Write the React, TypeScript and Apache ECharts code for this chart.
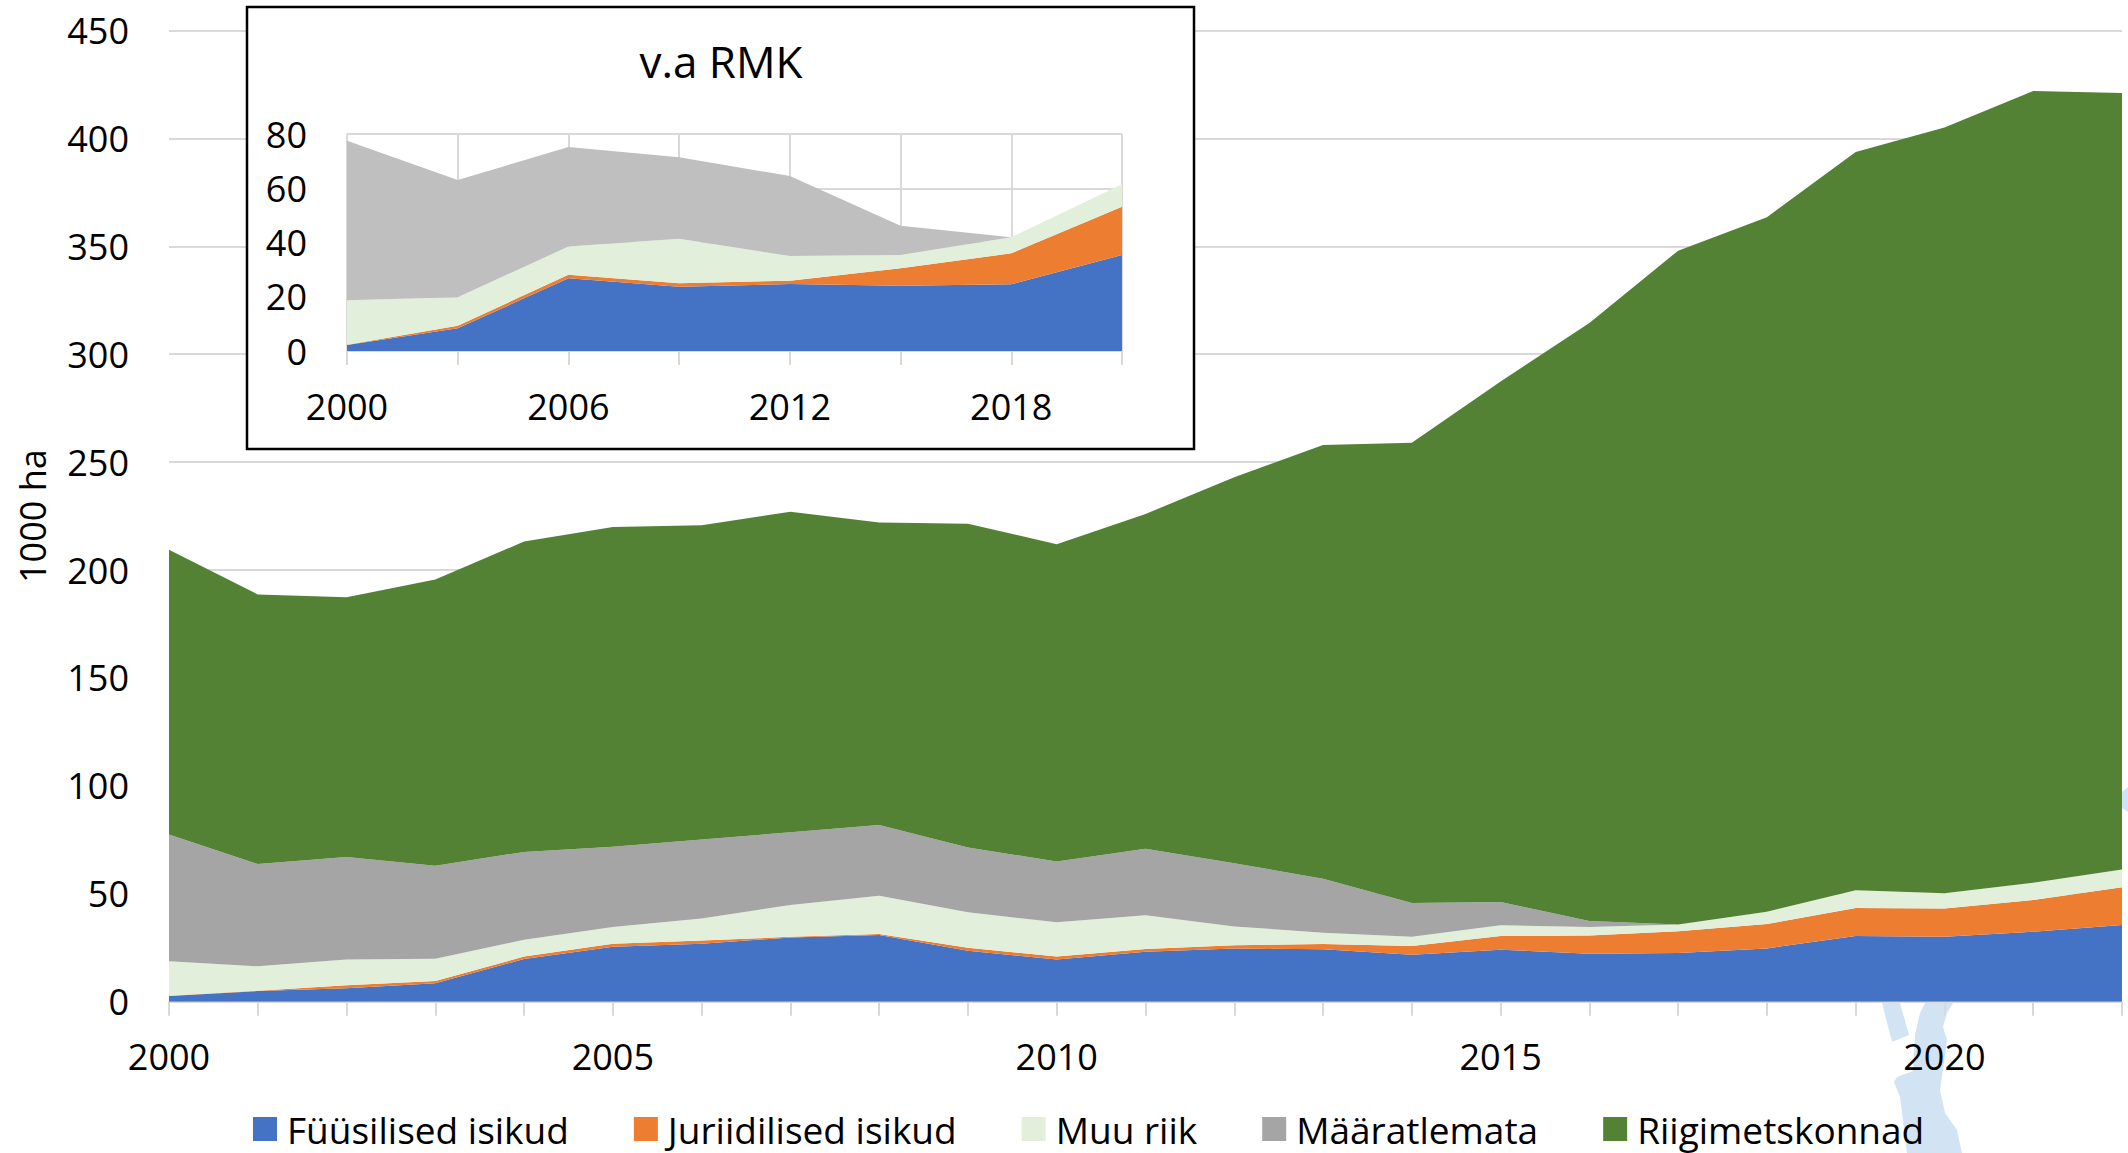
import React, { useEffect, useRef } from "react";
import * as echarts from "echarts";

const years = Array.from({ length: 23 }, (_, i) => String(2000 + i));
const fyysilised = [2.6,4.9,6.2,8.5,19.8,25.5,26.9,29.8,30.9,23.6,19.5,23.2,24.6,24.3,21.8,24.1,22.2,22.6,24.7,30.4,30.1,32.4,35.5];
const juriidilised = [0.2,0.2,1.4,1.1,1.1,1.4,1.4,0.3,0.5,1.4,1.4,1.2,1.5,2.4,4,6.3,8.5,10.1,11.3,13,13.1,14.7,17.5];
const muuRiik = [15.9,11.3,11.9,10.3,7.8,7.7,10.2,14.7,17.7,16.4,15.9,15.6,8.8,5.3,4.3,5,3.9,3.1,5.7,8.2,7,8,8.3];
const maaratlemata = [58.8,47.4,47.5,43.1,40.7,37.2,36.7,33.7,32.8,30,28.2,30.9,29.2,25,15.6,10.8,2.8,0,0,0,0,0,0];
const riigimetskonnad = [131.9,124.9,120.4,132.6,143.8,148.2,145.6,148.5,140.1,150,147,155.1,178.9,201,213.3,241.2,277.1,312.2,321.8,342.1,354.8,366.9,359.7];

const insetYears = ["2000","2003","2006","2009","2012","2015","2018","2021"];
const insetFyysilised = [2.2,8.4,26.8,23.7,24.7,24.1,24.6,35.4];
const insetJuriidilised = [0.1,0.9,1.3,1.3,1.2,6.4,11.4,17.8];
const insetMuuRiik = [16.4,10.5,10.4,16.4,9.1,4.9,5.9,8.3];
const insetMaaratlemata = [58.8,43.2,36.7,30,29.5,10.8,0,0];

const names = ["Füüsilised isikud","Juriidilised isikud","Muu riik","Määratlemata","Riigimetskonnad"];
const colors = ["#4472C4","#ED7D31","#E2EFDA","#A5A5A5","#548235"];
const insetColors = ["#4472C4","#ED7D31","#E2EFDA","#BFBFBF"];
const FONT = "'Open Sans', sans-serif";
const MAP_BLUE = "#D2E4F3";

function area(name: string, data: number[], color: string, stack: string, xAxisIndex: number, yAxisIndex: number, z: number) {
  return {
    name, type: "line", data, stack, xAxisIndex, yAxisIndex, z,
    areaStyle: { color, opacity: 1 }, lineStyle: { width: 0 }, itemStyle: { color },
    symbol: "none", showSymbol: false, silent: true,
    stackStrategy: "all",
  };
}

export default function App() {
  const ref = useRef<HTMLDivElement>(null);
  useEffect(() => {
    const chart = echarts.init(ref.current!, undefined, { renderer: "svg" });
    const gridLine = { show: true, lineStyle: { color: "#D9D9D9", width: 2 } };
    chart.setOption({
      animation: false,
      backgroundColor: "transparent",
      title: {
        text: "v.a RMK", left: 716, top: 34, textAlign: "center",
        textStyle: { fontFamily: FONT, fontSize: 44, fontWeight: "normal", color: "#000" },
        z: 20,
      },
      legend: {
        left: 253, top: 1110, padding: 0, itemGap: 65, itemWidth: 24, itemHeight: 24,
        icon: "rect", selectedMode: false,
        data: names,
        textStyle: { fontFamily: FONT, fontSize: 37, lineHeight: 38, color: "#000", padding: [0, 0, 0, 5] },
      },
      grid: [
        { left: 169, top: 30.5, width: 1953, height: 971.2, containLabel: false },
        { left: 347, top: 134, width: 775, height: 217, z: 12 },
      ],
      xAxis: [
        {
          type: "category", gridIndex: 0, data: years, boundaryGap: false,
          axisLine: { lineStyle: { color: "#D9D9D9", width: 2 } },
          axisTick: { show: true, length: 14, interval: 0, lineStyle: { color: "#D9D9D9", width: 2 } },
          axisLabel: { interval: (i: number) => i % 5 === 0, margin: 37, fontFamily: FONT, fontSize: 36, color: "#000" },
          splitLine: { show: false },
        },
        {
          type: "category", gridIndex: 1, data: insetYears, boundaryGap: false, z: 12,
          axisLine: { lineStyle: { color: "#D9D9D9", width: 2 } },
          axisTick: { show: true, length: 14, interval: 0, lineStyle: { color: "#D9D9D9", width: 2 } },
          axisLabel: { interval: (i: number) => i % 2 === 0 && i < 7, margin: 37, fontFamily: FONT, fontSize: 36, color: "#000" },
          splitLine: { ...gridLine, interval: 0 },
        },
      ],
      yAxis: [
        {
          type: "value", gridIndex: 0, min: 0, max: 450, interval: 50,
          axisLine: { show: false }, axisTick: { show: false },
          axisLabel: { margin: 40, fontFamily: FONT, fontSize: 36, color: "#000" },
          splitLine: gridLine,
          name: "1000 ha", nameLocation: "middle", nameGap: 119, nameRotate: 90,
          nameTextStyle: { fontFamily: FONT, fontSize: 36, color: "#000" },
        },
        {
          type: "value", gridIndex: 1, min: 0, max: 80, interval: 20, z: 12,
          axisLine: { show: false }, axisTick: { show: false },
          axisLabel: { margin: 40, fontFamily: FONT, fontSize: 36, color: "#000" },
          splitLine: gridLine,
        },
      ],
      series: [
        area(names[0], fyysilised, colors[0], "main", 0, 0, 2),
        area(names[1], juriidilised, colors[1], "main", 0, 0, 2),
        area(names[2], muuRiik, colors[2], "main", 0, 0, 2),
        area(names[3], maaratlemata, colors[3], "main", 0, 0, 2),
        area(names[4], riigimetskonnad, colors[4], "main", 0, 0, 2),
        area("inset1", insetFyysilised, insetColors[0], "inset", 1, 1, 14),
        area("inset2", insetJuriidilised, insetColors[1], "inset", 1, 1, 14),
        area("inset3", insetMuuRiik, insetColors[2], "inset", 1, 1, 14),
        area("inset4", insetMaaratlemata, insetColors[3], "inset", 1, 1, 14),
      ],
      graphic: [
        {
          type: "polygon", z: -1, silent: true,
          shape: { points: [[1882,1003],[1900,1003],[1909,1035],[1892,1042]] },
          style: { fill: MAP_BLUE },
        },
        {
          type: "polygon", z: -1, silent: true,
          shape: { points: [[1915,1035],[1920,1013],[1925,1003],[1953,1003],[1947,1013],[1943,1027],[1947,1040],[1943,1070],[1940,1090],[1945,1113],[1957,1130],[1962,1153],[1907,1153],[1900,1097],[1894,1082],[1897,1077],[1913,1071]] },
          style: { fill: MAP_BLUE },
        },
        {
          type: "polygon", z: -1, silent: true,
          shape: { points: [[2122,792],[2128,787],[2128,812],[2122,808]] },
          style: { fill: MAP_BLUE },
        },
        {
          type: "rect", z: 8,
          shape: { x: 247, y: 7, width: 947, height: 442 },
          style: { fill: "#fff", stroke: "#000", lineWidth: 2.5 },
        },
      ],
    });
    return () => chart.dispose();
  }, []);
  return <div ref={ref} style={{ position: "absolute", left: 0, top: 0, width: 2128, height: 1153 }} />;
}
